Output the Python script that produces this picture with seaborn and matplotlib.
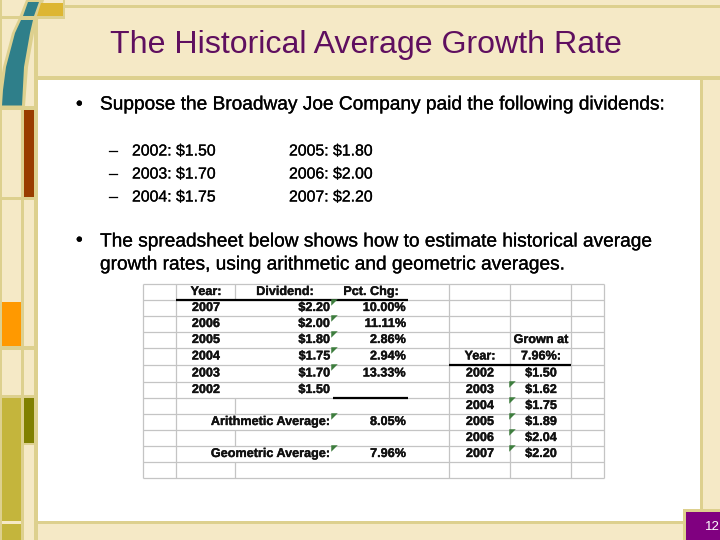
import matplotlib
matplotlib.use("Agg")
import matplotlib.pyplot as plt
import matplotlib.patheffects as pe
from matplotlib.patches import Rectangle, Polygon
import pandas as pd
import seaborn as sns

sns.set_theme(style="white", rc={"axes.edgecolor": "white"})
plt.rcParams['font.family'] = ['Liberation Sans', 'DejaVu Sans']

title = "The Historical Average Growth Rate"
intro = "Suppose the Broadway Joe Company paid the following dividends:"
outro = ["The spreadsheet below shows how to estimate historical average",
         "growth rates, using arithmetic and geometric averages."]
paid_left = ["2002: $1.50", "2003: $1.70", "2004: $1.75"]
paid_right = ["2005: $1.80", "2006: $2.00", "2007: $2.20"]

years = ["2007", "2006", "2005", "2004", "2003", "2002"]
dividends = ["$2.20", "$2.00", "$1.80", "$1.75", "$1.70", "$1.50"]
pct_chg = ["10.00%", "11.11%", "2.86%", "2.94%", "13.33%"]
grown_years = ["2002", "2003", "2004", "2005", "2006", "2007"]
grown_vals = ["$1.50", "$1.62", "$1.75", "$1.89", "$2.04", "$2.20"]
arith_avg = "8.05%"
geom_avg = "7.96%"

# slide colours
cream, line, teal, gold = "#F5E9C6", "#DDD08E", "#2F7F8A", "#DDB632"
rust, orange, olive, dark_olive = "#993D00", "#FF9900", "#C4B53C", "#808000"
purple, title_col = "#800080", "#5F0F5F"
grid_col = "#C4C4C4"

fig = plt.figure(figsize=(7.2, 5.4), dpi=100)
ax = fig.add_axes([0, 0, 1, 1])
ax.set_xlim(0, 720)
ax.set_ylim(540, 0)
ax.axis("off")


def box(x0, y0, x1, y1, col, z=1):
    ax.add_patch(Rectangle((x0, y0), x1 - x0, y1 - y0, fc=col, ec="none", zorder=z))


def rule(x0, y0, x1, y1, col, lw, z=5):
    sns.lineplot(x=[x0, x1], y=[y0, y1], color=col, lw=lw, ax=ax, zorder=z,
                 estimator=None, sort=False, solid_capstyle="butt")


# frame
box(0, 0, 720, 540, cream, 0)
box(38, 80, 700, 521, "white", 1)
box(34, 76, 720, 80, line)
box(34, 16, 38, 540, line)
box(700, 80, 703, 524, line)
box(38, 521, 720, 524, line)
box(65, 5, 720, 7.5, line)
box(63, 0, 65, 19, line)
box(0, 16, 65, 19, line)
box(0, 0, 2, 540, line)
box(21, 106, 24, 540, line)
box(0, 106, 38, 110, line)
box(0, 197, 38, 200, line)
box(0, 346, 38, 350, line)
box(0, 395, 38, 398, line)
box(24, 443, 34, 445, line)
box(24, 110, 34, 197, rust, 2)
box(2, 302, 21, 346, orange, 2)
box(2, 398, 21, 521, olive, 2)
box(2, 524, 21, 540, olive, 2)
box(24, 398, 34, 443, dark_olive, 2)
box(683, 509, 720, 540, line, 3)
box(686, 512, 720, 540, purple, 3)

# curved band top left
ax.add_patch(Polygon([(0, 106), (0, 85), (3, 67), (12, 33), (18, 20), (26, 0), (44, 0),
                      (34, 33), (28, 67), (25, 106)], fc=line, ec="none", zorder=3))
ax.add_patch(Polygon([(2, 105.5), (3, 90), (6, 67), (15, 33), (21, 20), (33, 20), (30, 33),
                      (24, 67), (22, 105.5)], fc=teal, ec="none", zorder=4))
ax.add_patch(Polygon([(28, 2), (39, 2), (34, 16), (23, 16)], fc=teal, ec="none", zorder=4))
ax.add_patch(Polygon([(41, 3), (63, 3), (63, 16), (37, 16)], fc=gold, ec="none", zorder=4))

# slide text
ax.text(365.5, 45, title, color=title_col, fontsize=23.1, ha="center", va="center", zorder=6)
ax.text(712, 527, "12", color="white", fontsize=9.5, ha="center", va="center", zorder=6)
thick = [pe.withStroke(linewidth=0.2, foreground="black")]
body = dict(color="black", fontsize=13.75, va="center", zorder=6, path_effects=thick)
ax.text(76, 105, "•", **body)
ax.text(100, 105, intro, **body)
ax.text(76, 241, "•", **body)
ax.text(100, 242, outro[0], **body)
ax.text(100, 265, outro[1], **body)
sub = dict(color="black", fontsize=11.4, va="center", zorder=6, path_effects=thick)
for i, (a, b) in enumerate(zip(paid_left, paid_right)):
    y = 151 + 23 * i
    ax.text(109, y, "–", **sub)
    ax.text(132, y, a, **sub)
    ax.text(289, y, b, **sub)

# spreadsheet grid
row_edges = [284, 300, 316, 332, 348, 365, 382, 398, 414, 430, 446, 462, 478]
col_edges = [143, 176, 235, 449, 510, 571, 604]
for y in row_edges:
    rule(143, y, 604, y, grid_col, 0.9, 5)
for x in col_edges:
    if x == 235:
        for r0, r1 in [(0, 1), (7, 8), (9, 10), (11, 12)]:
            rule(x, row_edges[r0], x, row_edges[r1], grid_col, 0.9, 5)
    else:
        rule(x, 284, x, 478, grid_col, 0.9, 5)
rule(176, 300, 408, 300, "black", 1.6, 6)
rule(333, 398, 408, 398, "black", 1.6, 6)
rule(449, 365, 571, 365, "black", 1.6, 6)

cell = dict(color="#111111", fontsize=9.1, fontweight="bold", va="center", zorder=7,
            path_effects=[pe.withStroke(linewidth=0.25, foreground="#111111")])
row_y = [(a + b) / 2 for a, b in zip(row_edges[:-1], row_edges[1:])]
ax.text(206, row_y[0], "Year:", ha="center", **cell)
ax.text(285, row_y[0], "Dividend:", ha="center", **cell)
ax.text(371, row_y[0], "Pct. Chg:", ha="center", **cell)
for i, (yr, d) in enumerate(zip(years, dividends)):
    ax.text(206, row_y[i + 1], yr, ha="center", **cell)
    ax.text(330, row_y[i + 1], d, ha="right", **cell)
for i, p in enumerate(pct_chg):
    ax.text(406, row_y[i + 1], p, ha="right", **cell)
ax.text(330, row_y[8], "Arithmetic Average:", ha="right", **cell)
ax.text(406, row_y[8], arith_avg, ha="right", **cell)
ax.text(330, row_y[10], "Geometric Average:", ha="right", **cell)
ax.text(406, row_y[10], geom_avg, ha="right", **cell)
ax.text(541, row_y[3], "Grown at", ha="center", **cell)
ax.text(480, row_y[4], "Year:", ha="center", **cell)
ax.text(541, row_y[4], "7.96%:", ha="center", **cell)
for i, (yr, g) in enumerate(zip(grown_years, grown_vals)):
    ax.text(480, row_y[5 + i], yr, ha="center", **cell)
    ax.text(541, row_y[5 + i], g, ha="center", **cell)

# green corner flags on formula cells
flag_rows = [1, 2, 3, 4, 5, 8, 10]
flags = pd.DataFrame({"x": [333.5] * len(flag_rows) + [512] * 5,
                      "y": [row_edges[r] + 2 for r in flag_rows] + [row_edges[r] + 2 for r in range(6, 11)]})
sns.scatterplot(data=flags, x="x", y="y", ax=ax, marker=[(-1, 1), (1, 1), (-1, -1)],
                color="#3E7D3E", s=22, linewidth=0, zorder=8)

ax.set_xlabel("")
ax.set_ylabel("")
ax.set_xlim(0, 720)
ax.set_ylim(540, 0)
fig.savefig("out.png", dpi=100)
